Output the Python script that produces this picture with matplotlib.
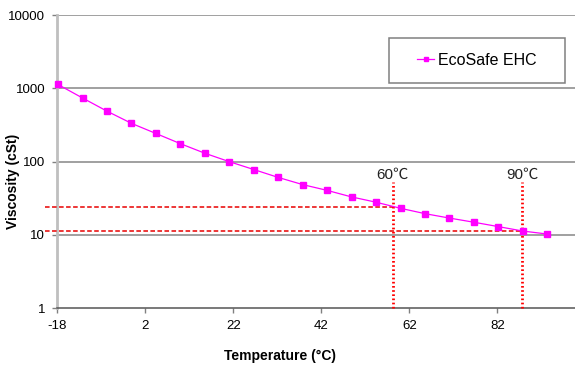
import matplotlib
matplotlib.use('Agg')
import matplotlib.pyplot as plt
from matplotlib.patches import Rectangle
from matplotlib.ticker import FixedLocator, FuncFormatter

# Data
temps = [-17.8, -12.2, -6.7, -1.1, 4.4, 10.0, 15.6, 21.1, 26.7, 32.2, 37.8,
         43.3, 48.9, 54.4, 60.0, 65.6, 71.1, 76.7, 82.2, 87.8, 93.3]
viscosity = [1130, 738, 490, 333, 243, 176, 130, 100, 78, 61, 48.6,
             40.6, 33, 28, 23.1, 19.5, 17, 14.9, 13, 11.3, 10.3]
series_name = 'EcoSafe EHC'

# reference markers (dashed/dotted guide lines)
ref_temps = [58.2, 87.6]
ref_visc = [23.9, 11.4]
ref_labels = ['60\u2103', '90\u2103']

x_ticks = [-18, 2, 22, 42, 62, 82]
y_ticks = [1, 10, 100, 1000, 10000]

plt.rcParams['font.family'] = ['Liberation Sans', 'Noto Sans CJK JP', 'DejaVu Sans']
plt.rcParams['axes.unicode_minus'] = False

fig = plt.figure(figsize=(5.75, 3.65), dpi=100)
ax = fig.add_axes([57 / 575, 1 - 308.3 / 365, 518 / 575, 293.3 / 365])

ax.set_yscale('log')
ax.set_xlim(-18, 99.6)
ax.set_ylim(1, 10000)

# gridlines at each decade
for v in y_ticks[1:]:
    ax.axhline(v, color='#868686', lw=1.1, zorder=1)

ax.plot(temps, viscosity, color='#ff00ff', lw=0.9, marker='s', markersize=4.6,
        markerfacecolor='#ff00ff', markeredgecolor='#ff00ff', label=series_name,
        zorder=4, clip_on=False)

# guide lines
x_left = -20.7
for t, v, lab in zip(ref_temps, ref_visc, ref_labels):
    ax.plot([x_left, t], [v, v], color='#e80000', lw=1.1, ls=(0, (3, 1.6)),
            zorder=3, clip_on=False)
    ax.plot([t, t], [1, 53], color='#ff0000', lw=2.0, ls=(0, (0.6, 0.9)),
            zorder=3, clip_on=False)
    ax.text(t, 67, lab, ha='center', va='center', fontsize=11, color='#222222')

ax.yaxis.set_major_locator(FixedLocator(y_ticks))
ax.yaxis.set_minor_locator(FixedLocator([]))
ax.yaxis.set_major_formatter(FuncFormatter(lambda v, p: f'{int(v)}'))
ax.set_xticks(x_ticks)

ax.tick_params(axis='both', which='major', labelsize=9.5, length=3.5, width=1,
               color='#808080', direction='out')
ax.tick_params(axis='y', pad=5)
ax.tick_params(axis='x', pad=5)

for s in ['top', 'right']:
    ax.spines[s].set_visible(False)
ax.spines['left'].set_color('#bfbfbf')
ax.spines['left'].set_linewidth(2)
ax.spines['bottom'].set_color('#555555')
ax.spines['bottom'].set_linewidth(1.1)

ax.set_xlabel('Temperature (\u00b0C)', fontsize=10, fontweight='bold')
ax.set_ylabel('Viscosity (cSt)', fontsize=10, fontweight='bold')
ax.xaxis.set_label_coords(0.4305, -0.1626)
ax.yaxis.set_label_coords(-0.0844, 0.434)
ax.xaxis.label.set_va('center')
ax.yaxis.label.set_va('center')

# legend box
fig.patches.append(Rectangle((389 / 575, 1 - 83 / 365), 176 / 575, 45 / 365,
                             transform=fig.transFigure, facecolor='white',
                             edgecolor='#808080', lw=1.1, zorder=5))
leg = fig.legend(loc='center', bbox_to_anchor=(477 / 575, 1 - 60.5 / 365),
                 frameon=False, fontsize=11.5, handlelength=1.1,
                 handletextpad=0.25, markerscale=0.75)
leg.set_zorder(6)

fig.savefig('out.png', dpi=100)
